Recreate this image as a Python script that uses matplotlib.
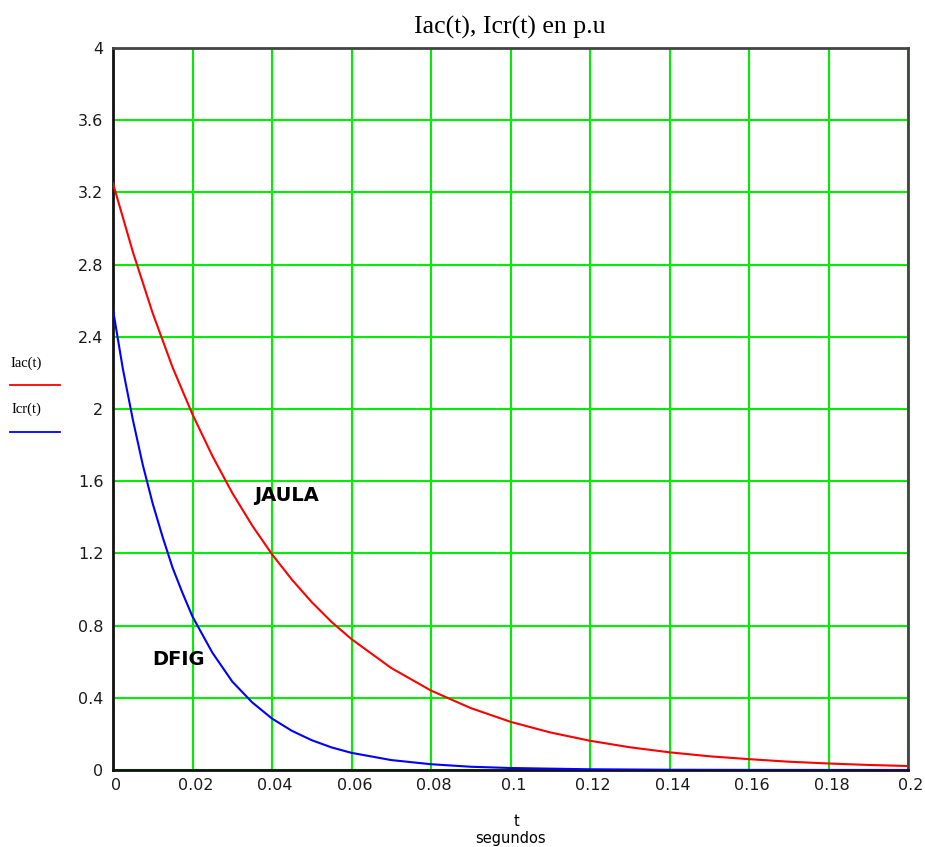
import matplotlib
matplotlib.use("Agg")
import matplotlib.pyplot as plt
from matplotlib.transforms import ScaledTranslation

# Data
t_jaula = [0, 0.005, 0.01, 0.015, 0.02, 0.025, 0.03, 0.035, 0.04, 0.045, 0.05, 0.055, 0.06,
           0.07, 0.08, 0.09, 0.10, 0.11, 0.12, 0.13, 0.14, 0.15, 0.16, 0.17, 0.18, 0.19, 0.20]
i_jaula = [3.25, 2.87, 2.53, 2.23, 1.97, 1.74, 1.535, 1.355, 1.195, 1.055, 0.93, 0.82, 0.725,
           0.565, 0.44, 0.343, 0.267, 0.208, 0.162, 0.126, 0.098, 0.076, 0.06, 0.046, 0.036, 0.028, 0.022]

t_dfig = [0, 0.0025, 0.005, 0.0075, 0.01, 0.0125, 0.015, 0.0175, 0.02, 0.025, 0.03, 0.035, 0.04,
          0.045, 0.05, 0.055, 0.06, 0.07, 0.08, 0.09, 0.10, 0.12, 0.14, 0.16, 0.18, 0.20]
i_dfig = [2.55, 2.22, 1.94, 1.69, 1.475, 1.29, 1.12, 0.98, 0.85, 0.65, 0.49, 0.375, 0.285,
          0.217, 0.165, 0.125, 0.095, 0.055, 0.032, 0.018, 0.011, 0.004, 0.0013, 0.0004, 0.0001, 0.0]

x_ticks = [0, 0.02, 0.04, 0.06, 0.08, 0.1, 0.12, 0.14, 0.16, 0.18, 0.2]
x_labels = ["0", "0.02", "0.04", "0.06", "0.08", "0.1", "0.12", "0.14", "0.16", "0.18", "0.2"]
y_ticks = [0, 0.4, 0.8, 1.2, 1.6, 2, 2.4, 2.8, 3.2, 3.6, 4]
y_labels = ["0", "0.4", "0.8", "1.2", "1.6", "2", "2.4", "2.8", "3.2", "3.6", "4"]

W, H = 925, 847
fig = plt.figure(figsize=(W / 100, H / 100), dpi=100)
L, R, T, B = 113, 908, 48, 770
ax = fig.add_axes([L / W, 1 - B / H, (R - L) / W, (B - T) / H])

ax.plot(t_dfig, i_dfig, color="#0000ff", lw=1.5, zorder=4)
ax.plot(t_jaula, i_jaula, color="#ff0000", lw=1.5, zorder=5)

ax.set_xlim(0, 0.2)
ax.set_ylim(0, 4)
ax.set_xticks(x_ticks)
ax.set_xticklabels(x_labels)
ax.set_yticks(y_ticks)
ax.set_yticklabels(y_labels)
ax.tick_params(length=0, labelsize=11.5, colors="#1a1a1a")
ax.tick_params(axis="x", pad=6)
ax.tick_params(axis="y", pad=7)
shift = ScaledTranslation(3 / 100, 0, fig.dpi_scale_trans)
for lab in ax.get_xticklabels():
    lab.set_transform(lab.get_transform() + shift)
ax.grid(True, color="#00ee00", lw=1.5, zorder=1)
ax.set_axisbelow(True)
for s in ["left", "bottom"]:
    ax.spines[s].set_color("#111111")
    ax.spines[s].set_linewidth(2)
for s in ["top", "right"]:
    ax.spines[s].set_color("#444444")
    ax.spines[s].set_linewidth(2)

serif = ["Liberation Serif", "DejaVu Serif"]
fig.text(510 / W, 1 - 27 / H, "Iac(t), Icr(t) en p.u", ha="center", va="center",
         fontsize=18.5, family=serif)

# left legend
fig.text(26 / W, 1 - 363 / H, "Iac(t)", ha="center", va="center", fontsize=10.5, family=serif)
fig.add_artist(plt.Line2D([10 / W, 60 / W], [1 - 385 / H, 1 - 385 / H], color="#ff0000", lw=1.3))
fig.text(26 / W, 1 - 409 / H, "Icr(t)", ha="center", va="center", fontsize=10.5, family=serif)
fig.add_artist(plt.Line2D([10 / W, 60 / W], [1 - 432 / H, 1 - 432 / H], color="#0000ff", lw=1.3))

# x label
fig.text(517 / W, 1 - 821 / H, "t", ha="center", va="center", fontsize=10.5, family="DejaVu Sans")
fig.text(510 / W, 1 - 838 / H, "segundos", ha="center", va="center", fontsize=10.5,
         family="DejaVu Sans")

ax.text(0.0437, 1.52, "JAULA", ha="center", va="center", fontsize=14, fontweight="bold",
        family="DejaVu Sans", zorder=6)
ax.text(0.0165, 0.61, "DFIG", ha="center", va="center", fontsize=14, fontweight="bold",
        family="DejaVu Sans", zorder=6)

fig.savefig("out.png", dpi=100, facecolor="white")
